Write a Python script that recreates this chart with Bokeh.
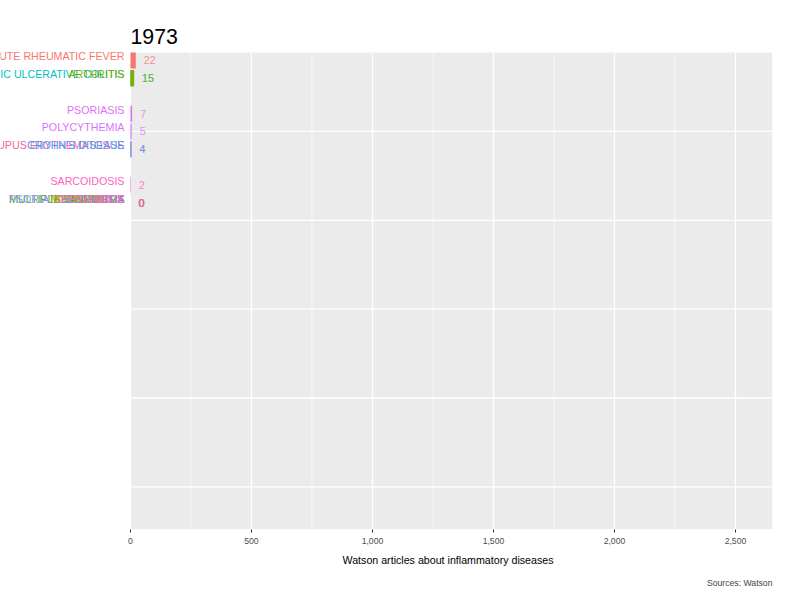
from bokeh.plotting import figure
from bokeh.models import Range1d, FixedTicker, NumeralTickFormatter, Title, ColumnDataSource
from bokeh.embed import file_html
from bokeh.resources import INLINE
from bokeh.core.properties import value

year = "1973"
diseases = ["ACUTE RHEUMATIC FEVER", "CHRONIC ULCERATIVE COLITIS", "ARTHRITIS", "PSORIASIS",
            "POLYCYTHEMIA", "LUPUS ERYTHEMATOSUS", "CROHN'S DISEASE", "SARCOIDOSIS",
            "ASTHMA", "MULTIPLE SCLEROSIS", "PSORIATIC ARTHRITIS", "VASCULITIS",
            "SPONDYLITIS", "MYOCARDITIS", "DERMATITIS", "GOUT"]
counts = [22, 15, 15, 7, 5, 4, 4, 2, 0, 0, 0, 0, 0, 0, 0, 0]
ranks = [1, 2, 2, 4, 5, 6, 6, 8, 9, 9, 9, 9, 9, 9, 9, 9]
colors = ["#F8766D", "#00BFC4", "#7CAE00", "#E36EF6", "#D575FE", "#F564A0", "#35A2FF",
          "#FF61C3", "#00B0F6", "#39B600", "#9590FF", "#00BF7D", "#D89000", "#A3A500",
          "#E76BF3", "#FF62BC"]
x_ticks = [0, 500, 1000, 1500, 2000, 2500]

XMAX = 2653
p = figure(width=792, height=592, output_backend="svg", toolbar_location=None,
           x_range=Range1d(-537, XMAX), y_range=Range1d(27.4, -2.37),
           min_border_left=0, min_border_right=20, min_border_top=0, min_border_bottom=62)
p.outline_line_color = None
p.background_fill_color = "white"
p.xgrid.visible = False
p.ygrid.visible = False
p.yaxis.visible = False

p.quad(left=[0], right=[XMAX], top=[0.55], bottom=[27.4], fill_color="#EBEBEB", line_color=None)
minor = [v + 250 for v in x_ticks]
p.segment(x0=minor, x1=minor, y0=[0.55]*len(minor), y1=[27.4]*len(minor), line_color="white", line_width=0.6)
p.segment(x0=x_ticks, x1=x_ticks, y0=[0.55]*len(x_ticks), y1=[27.4]*len(x_ticks), line_color="white", line_width=1.3)
hy = [5, 10, 15, 20, 25]
p.segment(x0=[0]*len(hy), x1=[XMAX]*len(hy), y0=hy, y1=hy, line_color="white", line_width=1.3)

src = ColumnDataSource(dict(name=diseases, v=counts, r=ranks, c=colors,
                            lab=[str(c) for c in counts]))
p.hbar(y="r", left=0, right="v", height=0.9, fill_color="c", line_color=None, source=src)
p.text(x=0, y="r", text="name", text_color="c", x_offset=-6, text_align="right",
       text_baseline="bottom", y_offset=2, text_font_size="8pt", text_font=value("Liberation Sans"), source=src)
p.text(x="v", y="r", text="lab", text_color="c", x_offset=8, text_align="left", text_alpha=0.8,
       text_baseline="middle", text_font_size="8pt", text_font=value("Liberation Sans"), source=src)

p.text(x=[0], y=[-0.35], text=[year], text_font_size="16pt", text_baseline="middle",
       text_font=value("Liberation Sans"), text_color="black")

ax = p.xaxis[0]
ax.ticker = FixedTicker(ticks=x_ticks)
ax.formatter = NumeralTickFormatter(format="0,0")
ax.axis_line_color = None
ax.major_tick_line_color = "#333333"
ax.major_tick_in = 0
ax.major_tick_out = 3
ax.minor_tick_line_color = None
ax.major_label_text_font_size = "6.5pt"
ax.major_label_text_color = "#4D4D4D"
ax.major_label_text_font = "Liberation Sans"

p.add_layout(Title(text="Watson articles about inflammatory diseases", align="left", offset=342,
                   text_font_size="8pt", text_font_style="normal", text_font="Liberation Sans",
                   text_color="black"), "below")
p.add_layout(Title(text="Sources: Watson", align="right", text_font_size="6.5pt",
                   text_font_style="normal", text_font="Liberation Sans"), "below")

open("out.html", "w").write(file_html(p, INLINE))
